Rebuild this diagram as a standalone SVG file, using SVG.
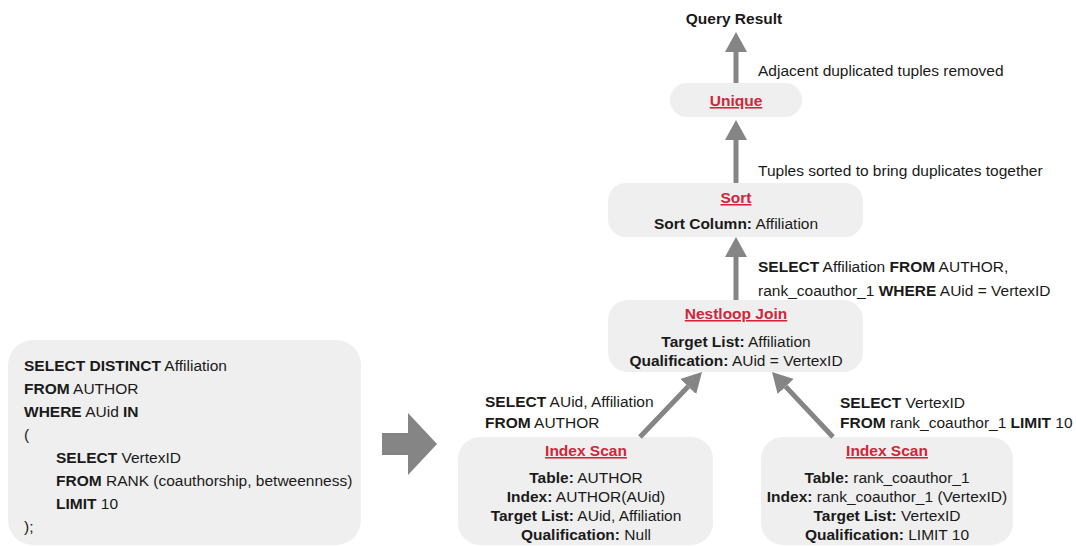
<svg xmlns="http://www.w3.org/2000/svg" width="1076" height="546" viewBox="0 0 1076 546">
  <style>
    text { font-family: "Liberation Sans", Arial, sans-serif; font-size: 15.5px; fill: #1a1a1a; }
    .b { font-weight: bold; }
    .title { font-weight: bold; fill: #d1253a; text-decoration: underline; }
    .box { fill: #efefef; }
    .mid { text-anchor: middle; }
    .edge { stroke: #858585; stroke-width: 5; fill: none; marker-end: url(#head); }
  </style>
  <defs>
    <marker id="head" markerUnits="userSpaceOnUse" viewBox="0 -11 20 22" markerWidth="20" markerHeight="22" refX="0" refY="0" orient="auto">
      <path d="M0,-11 L20,0 L0,11 z" fill="#858585"/>
    </marker>
  </defs>

  <rect width="1076" height="546" fill="#ffffff"/>

  <!-- SQL query -->
  <g id="query">
    <rect class="box" x="8" y="340" width="353" height="205" rx="25"/>
    <text x="24" y="371"><tspan class="b">SELECT DISTINCT</tspan> Affiliation</text>
    <text x="24" y="394"><tspan class="b">FROM</tspan> AUTHOR</text>
    <text x="24" y="417"><tspan class="b">WHERE</tspan> AUid <tspan class="b">IN</tspan></text>
    <text x="24" y="440">(</text>
    <text x="56" y="463"><tspan class="b">SELECT</tspan> VertexID</text>
    <text x="56" y="486"><tspan class="b">FROM</tspan> RANK (coauthorship, betweenness)</text>
    <text x="56" y="509"><tspan class="b">LIMIT</tspan> 10</text>
    <text x="24" y="532">);</text>
  </g>

  <!-- block arrow: query becomes plan -->
  <g id="transform">
    <path d="M382,433 H408 V413 L437,444 L408,475 V455 H382 z" fill="#858585"/>
  </g>

  <g id="query-result">
    <text class="b mid" x="734" y="24">Query Result</text>
  </g>

  <g id="unique">
    <rect class="box" x="670" y="83" width="132" height="34" rx="17"/>
    <text class="title mid" x="736" y="106">Unique</text>
  </g>

  <g id="sort">
    <rect class="box" x="608" y="183" width="255" height="54" rx="18"/>
    <text class="title mid" x="736" y="203">Sort</text>
    <text class="mid" x="736" y="229"><tspan class="b">Sort Column:</tspan> Affiliation</text>
  </g>

  <g id="nestloop-join">
    <rect class="box" x="608" y="300" width="255" height="72" rx="20"/>
    <text class="title mid" x="736" y="319">Nestloop Join</text>
    <text class="mid" x="736" y="347"><tspan class="b">Target List:</tspan> Affiliation</text>
    <text class="mid" x="736" y="366"><tspan class="b">Qualification:</tspan> AUid = VertexID</text>
  </g>

  <g id="index-scan-author">
    <rect class="box" x="458" y="437" width="255" height="108" rx="22"/>
    <text class="title mid" x="586" y="456">Index Scan</text>
    <text class="mid" x="586" y="483"><tspan class="b">Table:</tspan> AUTHOR</text>
    <text class="mid" x="586" y="502"><tspan class="b">Index:</tspan> AUTHOR(AUid)</text>
    <text class="mid" x="586" y="521"><tspan class="b">Target List:</tspan> AUid, Affiliation</text>
    <text class="mid" x="586" y="540"><tspan class="b">Qualification:</tspan> Null</text>
  </g>

  <g id="index-scan-rank">
    <rect class="box" x="761" y="437" width="252" height="108" rx="22"/>
    <text class="title mid" x="887" y="456">Index Scan</text>
    <text class="mid" x="887" y="483"><tspan class="b">Table:</tspan> rank_coauthor_1</text>
    <text class="mid" x="887" y="502"><tspan class="b">Index:</tspan> rank_coauthor_1 (VertexID)</text>
    <text class="mid" x="887" y="521"><tspan class="b">Target List:</tspan> VertexID</text>
    <text class="mid" x="887" y="540"><tspan class="b">Qualification:</tspan> LIMIT 10</text>
  </g>

  <!-- data flow between plan nodes -->
  <g id="connectors">
    <path class="edge" d="M736,83 V52"/>
    <path class="edge" d="M736,183 V140"/>
    <path class="edge" d="M736,300 V257"/>
    <path class="edge" d="M640,437 L688.2,386.5"/>
    <path class="edge" d="M833,437 L785.7,386.6"/>
    <text x="758" y="76">Adjacent duplicated tuples removed</text>
    <text x="758" y="176">Tuples sorted to bring duplicates together</text>
    <text x="758" y="272"><tspan class="b">SELECT</tspan> Affiliation <tspan class="b">FROM</tspan> AUTHOR,</text>
    <text x="758" y="296">rank_coauthor_1 <tspan class="b">WHERE</tspan> AUid = VertexID</text>
    <text x="485" y="407"><tspan class="b">SELECT</tspan> AUid, Affiliation</text>
    <text x="485" y="428"><tspan class="b">FROM</tspan> AUTHOR</text>
    <text x="840" y="408"><tspan class="b">SELECT</tspan> VertexID</text>
    <text x="840" y="428"><tspan class="b">FROM</tspan> rank_coauthor_1 <tspan class="b">LIMIT</tspan> 10</text>
  </g>
</svg>
